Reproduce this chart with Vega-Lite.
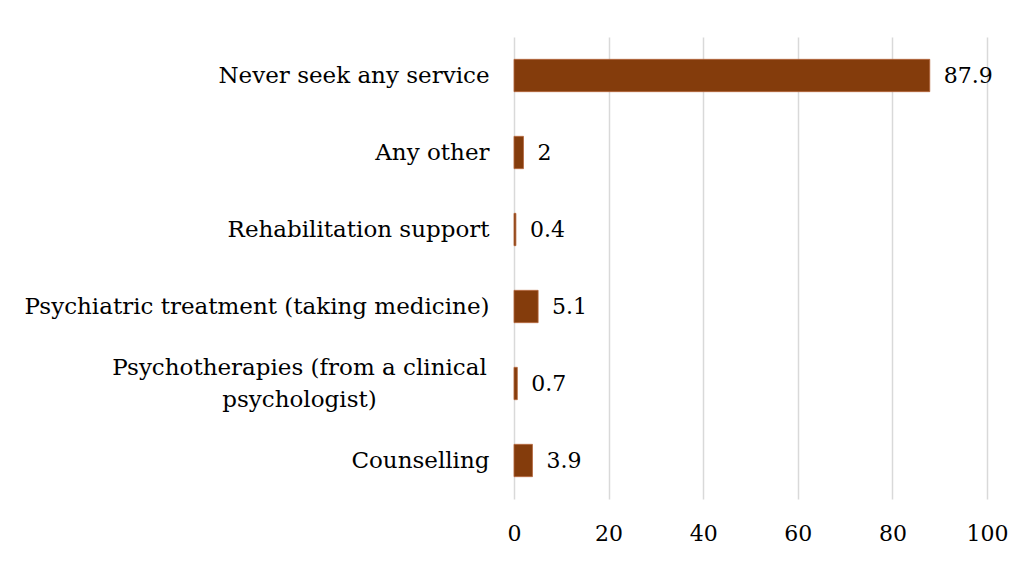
{
  "$schema": "https://vega.github.io/schema/vega-lite/v6.json",
  "autosize": "none",
  "padding": {"left": 514, "top": 37, "right": 39, "bottom": 64},
  "width": 473,
  "height": 462,
  "background": "white",
  "config": {"view": {"stroke": null}, "font": "DejaVu Serif"},
  "data": {"values": [
    {"service": "Never seek any service", "value": 87.9},
    {"service": "Any other", "value": 2},
    {"service": "Rehabilitation support", "value": 0.4},
    {"service": "Psychiatric treatment (taking medicine)", "value": 5.1},
    {"service": "Psychotherapies (from a clinical psychologist)", "value": 0.7},
    {"service": "Counselling", "value": 3.9}
  ]},
  "encoding": {
    "y": {
      "field": "service", "type": "nominal", "sort": null, "title": null,
      "scale": {"paddingInner": 0.58, "paddingOuter": 0.29},
      "axis": {
        "domain": false, "ticks": false,
        "labelPadding": {"condition": {"test": "datum.value == 'Psychotherapies (from a clinical psychologist)'", "value": 215}, "value": 25},
        "labelAlign": {"condition": {"test": "datum.value == 'Psychotherapies (from a clinical psychologist)'", "value": "center"}, "value": "right"},
        "labelFontSize": 23, "labelColor": "#000000", "labelLimit": 700,
        "labelFont": "DejaVu Serif", "labelLineHeight": 32,
        "labelOffset": {"condition": {"test": "datum.value == 'Psychotherapies (from a clinical psychologist)'", "value": -16}, "value": 0},
        "labelExpr": "datum.label == 'Psychotherapies (from a clinical psychologist)' ? ['Psychotherapies (from a clinical', 'psychologist)'] : datum.label"
      }
    },
    "x": {
      "field": "value", "type": "quantitative", "title": null,
      "scale": {"domain": [0, 100]},
      "axis": {
        "values": [0, 20, 40, 60, 80, 100], "domain": false, "ticks": false, "labelFlush": false,
        "labelPadding": 24, "labelFontSize": 22, "labelColor": "#000000",
        "labelFont": "DejaVu Serif",
        "gridColor": "#D9D9D9", "gridWidth": 1.5
      }
    }
  },
  "layer": [
    {"mark": {"type": "bar", "color": "#843C0C", "stroke": "#B5653A", "strokeWidth": 0.8}},
    {"mark": {"type": "text", "align": "left", "baseline": "middle", "dx": 14, "fontSize": 22, "font": "DejaVu Serif", "color": "#000000"},
     "encoding": {"text": {"field": "value", "type": "quantitative"}}}
  ]
}
